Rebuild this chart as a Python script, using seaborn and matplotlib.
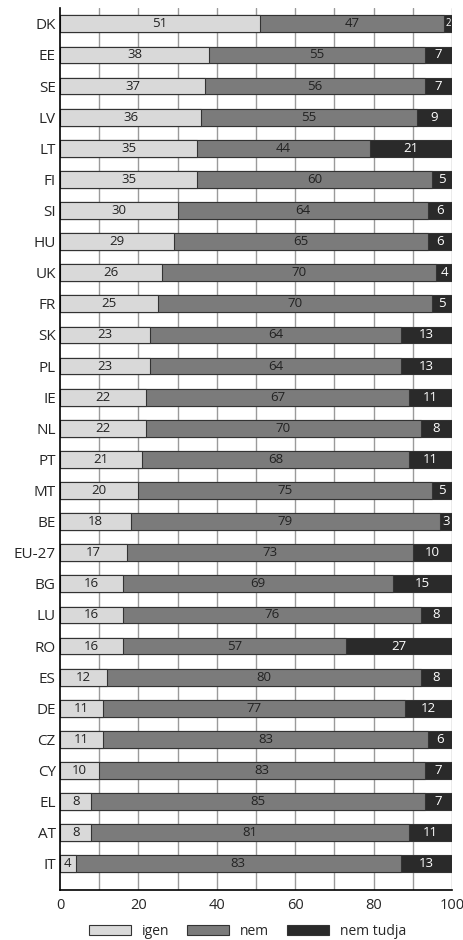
import matplotlib
matplotlib.use("Agg")
import matplotlib.pyplot as plt
import seaborn as sns
import pandas as pd
import numpy as np
from matplotlib.patches import Patch

countries = ["DK", "EE", "SE", "LV", "LT", "FI", "SI", "HU", "UK", "FR",
             "SK", "PL", "IE", "NL", "PT", "MT", "BE", "EU-27", "BG", "LU",
             "RO", "ES", "DE", "CZ", "CY", "EL", "AT", "IT"]
igen = [51, 38, 37, 36, 35, 35, 30, 29, 26, 25, 23, 23, 22, 22, 21, 20, 18,
        17, 16, 16, 16, 12, 11, 11, 10, 8, 8, 4]
nem = [47, 55, 56, 55, 44, 60, 64, 65, 70, 70, 64, 64, 67, 70, 68, 75, 79,
       73, 69, 76, 57, 80, 77, 83, 83, 85, 81, 83]
nem_tudja = [2, 7, 7, 9, 21, 5, 6, 6, 4, 5, 13, 13, 11, 8, 11, 5, 3, 10, 15,
             8, 27, 8, 12, 6, 7, 7, 11, 13]
series_names = ["igen", "nem", "nem tudja"]
x_ticks = [0, 20, 40, 60, 80, 100]

sns.set_theme(style="white")
plt.rcParams["font.family"] = ["Open Sans", "DejaVu Sans"]

df = pd.DataFrame({"country": countries, "igen": igen, "nem": nem,
                   "nem_tudja": nem_tudja})
df["c1"] = df["igen"]
df["c2"] = df["igen"] + df["nem"]
df["c3"] = df["c2"] + df["nem_tudja"]

light, mid, dark = "#d9d9d9", "#7b7b7b", "#2a2a2a"
edge = "#333333"

fig = plt.figure(figsize=(4.63, 9.4), dpi=100)
ax = fig.add_axes([0.1296, 0.0532, 0.8466, 0.9383])

# vertical grid beneath bars
for gx in range(10, 101, 10):
    ax.axvline(gx, color="#9a9a9a", lw=1.0, zorder=0)

bw = 0.54
for col, colr in [("c3", dark), ("c2", mid), ("c1", light)]:
    sns.barplot(data=df, y="country", x=col, orient="h", color=colr,
                width=bw, edgecolor=edge, linewidth=0.8, saturation=1,
                ax=ax, zorder=2)

# segment value labels
for i, row in df.iterrows():
    segs = [(0, row["igen"], "#222222"),
            (row["c1"], row["nem"], "#222222"),
            (row["c2"], row["nem_tudja"], "white")]
    for start, val, tc in segs:
        ax.text(start + val / 2, i, f"{val}", ha="center", va="center",
                fontsize=9.5 if val >= 3 else 7, color=tc, zorder=5)

ax.set_xlim(0, 100)
ax.set_ylim(len(countries) - 1 + 0.84, -0.51)
ax.set_xticks(x_ticks)
ax.set_xticklabels([str(t) for t in x_ticks], fontsize=10.5)
ax.tick_params(axis="x", length=0, pad=6)
ax.tick_params(axis="y", length=0, pad=3, labelsize=11)
ax.set_xlabel("")
ax.set_ylabel("")
for s in ["top", "right"]:
    ax.spines[s].set_visible(False)
for s in ["left", "bottom"]:
    ax.spines[s].set_color("black")
    ax.spines[s].set_linewidth(1.2)
    ax.spines[s].set_zorder(6)

handles = [Patch(facecolor=c, edgecolor=edge, linewidth=0.8)
           for c in (light, mid, dark)]
fig.legend(handles, series_names, loc="lower center", ncol=3,
           bbox_to_anchor=(0.535, -0.012), frameon=False, fontsize=10,
           handlelength=3.0, handleheight=0.8, columnspacing=1.3,
           handletextpad=0.8)

fig.savefig("out.png", dpi=100)
